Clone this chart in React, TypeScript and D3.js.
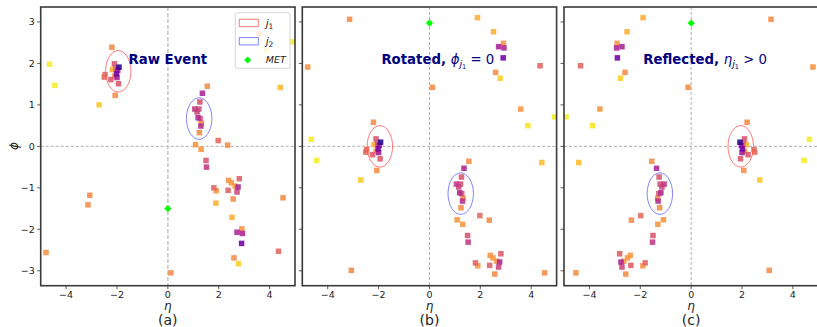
import React from 'react';
import * as d3 from 'd3';

// raw event constituents (eta, phi, colour value on the plasma map: 0 dark -> 1 yellow)
const etaRaw = [
  -2.20, -2.10, -1.92, -2.18, -2.04, -1.97, -2.02, -2.47, -2.50, -2.10, -2.00, -2.24, -1.94, -2.07,
  -4.65, -4.44, -2.70, -3.07, -3.14, -4.79,
  1.55, 1.36, 1.26, 1.06, 1.22, 1.15, 1.19, 1.27, 1.32, 1.30, 1.24, 1.98, 1.09, 1.31, 2.35, 1.50, 1.52,
  2.39, 2.50, 2.81, 2.65, 2.76, 1.81, 1.90, 2.37, 2.72, 2.57, 4.53, 1.89, 2.52, 2.91, 2.72, 2.93, 2.90,
  4.35, 2.60, 2.78, 0.12,
  3.59, 4.92, 3.87, 4.42,
];
const phiRaw = [
  2.39, 1.99, 1.91, 1.85, 1.88, 1.83, 1.75, 1.73, 1.67, 1.69, 1.66, 1.61, 1.51, 1.23,
  1.98, 1.47, 1.00, -1.18, -1.41, -2.56,
  1.45, 1.28, 1.07, 0.90, 0.90, 0.83, 0.69, 0.67, 0.56, 0.49, 0.33, 0.14, 0.04, -0.07, 0.03, -0.34, -0.50,
  -0.82, -0.88, -0.78, -0.96, -0.98, -1.00, -1.07, -1.06, -1.10, -1.27, -1.24, -1.37, -1.71, -1.99, -2.07, -2.10, -2.34,
  -2.53, -2.69, -2.83, -3.05,
  2.71, 2.52, 2.31, 1.42,
];
const colorVal = [
  0.72, 0.55, 0.05, 0.82, 0.58, 0.35, 0.22, 0.62, 0.62, 0.75, 0.35, 0.56, 0.56, 0.72,
  0.97, 0.97, 0.88, 0.72, 0.72, 0.74,
  0.72, 0.38, 0.55, 0.45, 0.52, 0.50, 0.40, 0.55, 0.72, 0.42, 0.72, 0.62, 0.75, 0.75, 0.72, 0.55, 0.45,
  0.75, 0.75, 0.58, 0.75, 0.38, 0.60, 0.75, 0.58, 0.50, 0.72, 0.72, 0.82, 0.82, 0.75, 0.38, 0.38, 0.22,
  0.60, 0.72, 0.90, 0.72,
  0.75, 0.97, 0.95, 0.85,
];

// jets and missing energy in the raw event
const jetEta = [-1.95, 1.23];
const jetPhi = [1.81, 0.67];
const jetColors = ['#ff4d4d', '#5a5aff'];
const jetLabels = ['1', '2'];
const metEta = 0;
const metPhi = -1.5;
const JET_R = 0.5;

const xTicks = [-4, -2, 0, 2, 4];
const yTicks = [-3, -2, -1, 0, 1, 2, 3];
const panelLabels = ['(a)', '(b)', '(c)'];

const FONT = 'DejaVu Sans, sans-serif';
const NAVY = '#000080';

const PANEL_LEFT = [40.7, 302.3, 564];
const PANEL_W = 254.3;
const TOP = 7;
const BOTTOM = 285.7;

function wrapPhi(p: number) {
  let v = p;
  while (v > Math.PI) v -= 2 * Math.PI;
  while (v < -Math.PI) v += 2 * Math.PI;
  return v;
}

type Pt = { eta: number; phi: number; c: number };

function buildPanels() {
  const raw: Pt[] = etaRaw.map((e, i) => ({ eta: e, phi: phiRaw[i], c: colorVal[i] }));
  const rawJets = jetEta.map((e, i) => ({ eta: e, phi: jetPhi[i] }));
  const rawMet = { eta: metEta, phi: metPhi };
  const rot = jetPhi[0];
  const rotate = (p: any) => ({ ...p, phi: wrapPhi(p.phi - rot) });
  const flip = jetEta[0] < 0 ? -1 : 1;
  const reflect = (p: any) => ({ ...p, eta: p.eta * flip });
  const rotPts = raw.map(rotate);
  const rotJets = rawJets.map(rotate);
  const rotMet = rotate(rawMet);
  return [
    { pts: raw, jets: rawJets, met: rawMet },
    { pts: rotPts, jets: rotJets, met: rotMet },
    { pts: rotPts.map(reflect), jets: rotJets.map(reflect), met: reflect(rotMet) },
  ];
}

function Title({ i, x }: { i: number; x: number }) {
  const y = 64;
  if (i === 0) {
    return (
      <text x={x} y={y} textAnchor="middle" fontFamily={FONT} fontSize={13.3} fontWeight="bold" fill={NAVY}>
        Raw Event
      </text>
    );
  }
  const sym = i === 1 ? 'ϕ' : 'η';
  const rest = i === 1 ? ' = 0' : ' > 0';
  return (
    <text x={x} y={y} textAnchor="middle" fontFamily={FONT} fontSize={13.3} fill={NAVY}>
      <tspan fontWeight="bold">{i === 1 ? 'Rotated, ' : 'Reflected, '}</tspan>
      <tspan fontStyle="italic">{sym}</tspan>
      <tspan fontStyle="italic" fontSize={9.5} dy={3}>j</tspan>
      <tspan fontSize={6.5} dy={2}>1</tspan>
      <tspan dy={-5}>{rest}</tspan>
    </text>
  );
}

function Panel({ i, data }: { i: number; data: any }) {
  const left = PANEL_LEFT[i];
  const x = d3.scaleLinear().domain([-5, 5]).range([left, left + PANEL_W]);
  const y = d3.scaleLinear().domain([-3.36, 3.36]).range([BOTTOM, TOP]);
  const clipId = `clip-${i}`;
  const sorted = [...data.pts].sort((a: Pt, b: Pt) => b.c - a.c);
  const sq = 5.5;
  const titleX = [0.5, 0.533, 0.555][i];
  const ms = 3.6;
  const mx = x(data.met.eta);
  const my = y(data.met.phi);
  return (
    <g>
      <defs>
        <clipPath id={clipId}>
          <rect x={left} y={TOP} width={PANEL_W} height={BOTTOM - TOP} />
        </clipPath>
      </defs>
      <rect x={left} y={TOP} width={PANEL_W} height={BOTTOM - TOP} fill="#fff" />
      <g clipPath={`url(#${clipId})`}>
        <line x1={left} x2={left + PANEL_W} y1={y(0)} y2={y(0)} stroke="#999" strokeWidth={0.8} strokeDasharray="3,2" />
        <line
          x1={x(0)} x2={x(0)} y1={TOP} y2={BOTTOM}
          stroke={i === 0 ? '#ccc' : '#999'}
          strokeWidth={i === 0 ? 1.8 : 0.8}
          strokeDasharray={i === 0 ? '4,2' : '3,2'}
        />
        {sorted.map((p: Pt, k: number) => (
          <rect
            key={k}
            x={x(p.eta) - sq / 2}
            y={y(p.phi) - sq / 2}
            width={sq}
            height={sq}
            fill={d3.interpolatePlasma(p.c)}
            fillOpacity={0.88}
          />
        ))}
        {data.jets.map((j: any, k: number) => (
          <ellipse
            key={k}
            cx={x(j.eta)}
            cy={y(j.phi)}
            rx={x(JET_R) - x(0)}
            ry={y(0) - y(JET_R)}
            fill="none"
            stroke={jetColors[k]}
            strokeOpacity={0.75}
            strokeWidth={1}
          />
        ))}
        <path d={`M${mx},${my - ms}L${mx + ms},${my}L${mx},${my + ms}L${mx - ms},${my}Z`} fill="#00ff00" />
      </g>
      <rect x={left} y={TOP} width={PANEL_W} height={BOTTOM - TOP} fill="none" stroke="#3a3a3a" strokeWidth={1.6} />
      {xTicks.map((t) => (
        <g key={t}>
          <line x1={x(t)} x2={x(t)} y1={BOTTOM} y2={BOTTOM + 3.5} stroke="#333" strokeWidth={0.8} />
          <text x={x(t)} y={BOTTOM + 12.5} textAnchor="middle" fontFamily={FONT} fontSize={9.5} fill="#222">
            {t < 0 ? `−${-t}` : t}
          </text>
        </g>
      ))}
      {yTicks.map((t) => (
        <g key={t}>
          <line x1={left} x2={left - 3.5} y1={y(t)} y2={y(t)} stroke="#333" strokeWidth={0.8} />
          {i === 0 && (
            <text x={left - 6} y={y(t) + 3.4} textAnchor="end" fontFamily={FONT} fontSize={9.5} fill="#222">
              {t < 0 ? `−${-t}` : t}
            </text>
          )}
        </g>
      ))}
      <text x={x(0)} y={310} textAnchor="middle" fontFamily={FONT} fontSize={12} fontStyle="italic" fill="#222">
        η
      </text>
      <text x={x(0)} y={324.5} textAnchor="middle" fontFamily={FONT} fontSize={14} fill="#222">
        {panelLabels[i]}
      </text>
      <Title i={i} x={left + PANEL_W * titleX} />
    </g>
  );
}

function Legend() {
  const bx = 235.3, by = 12.7, bw = 54.7, bh = 55.6;
  return (
    <g>
      <rect x={bx} y={by} width={bw} height={bh} rx={2} fill="#fff" fillOpacity={0.8} stroke="#ccc" strokeWidth={0.8} />
      {jetLabels.map((lab, k) => (
        <g key={k}>
          <rect x={239.3} y={19.3 + k * 18.3} width={19} height={7.3} fill="none" stroke={jetColors[k]} strokeOpacity={0.75} strokeWidth={1} />
          <text x={265.7} y={26.5 + k * 18.3} fontFamily={FONT} fontSize={10.5} fill="#222">
            <tspan fontStyle="italic">j</tspan>
            <tspan fontSize={7.5} dy={2}>{lab}</tspan>
          </text>
        </g>
      ))}
      <path d="M247.7,56.4L251.3,60L247.7,63.6L244.1,60Z" fill="#00ff00" />
      <text x={265.7} y={63.3} fontFamily={FONT} fontSize={9.5} fontStyle="italic" fill="#222">
        MET
      </text>
    </g>
  );
}

export default function App() {
  const panels = buildPanels();
  return (
    <svg width={817} height={327} style={{ position: 'absolute', left: 0, top: 0, background: '#fff' }}>
      <rect width={817} height={327} fill="#fff" />
      {panels.map((p, i) => (
        <Panel key={i} i={i} data={p} />
      ))}
      <Legend />
      <text
        transform="translate(14,146) rotate(-90)"
        textAnchor="middle"
        dy={4}
        fontFamily={FONT}
        fontSize={12}
        fontStyle="italic"
        fill="#222"
      >
        ϕ
      </text>
    </svg>
  );
}
